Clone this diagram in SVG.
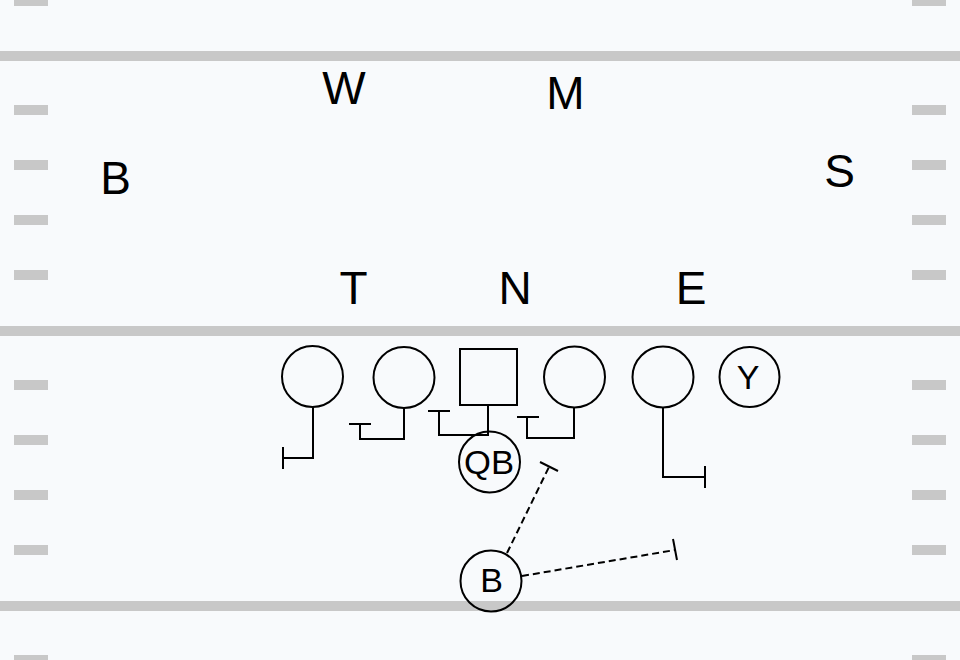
<svg xmlns="http://www.w3.org/2000/svg" width="960" height="660" viewBox="0 0 960 660">
<style>
.yard{fill:#c8c8c8}
.lbl{font-family:"Liberation Sans",Arial,sans-serif;font-size:46px;fill:#000;text-anchor:middle}
.plbl{font-family:"Liberation Sans",Arial,sans-serif;font-size:34px;fill:#000;text-anchor:middle}
.pl{fill:none;stroke:#000;stroke-width:2}
.rt{fill:none;stroke:#000;stroke-width:2}
.dash{fill:none;stroke:#000;stroke-width:2;stroke-dasharray:7,4}
</style>
<rect width="960" height="660" fill="#f8fafc"/>
<g id="field">
<rect class="yard" x="0" y="51" width="960" height="10"/>
<rect class="yard" x="0" y="326" width="960" height="10"/>
<rect class="yard" x="0" y="601" width="960" height="10"/>
<g id="hashes-left">
<rect class="yard" x="14" y="-4" width="34" height="10"/>
<rect class="yard" x="14" y="105" width="34" height="10"/>
<rect class="yard" x="14" y="160" width="34" height="10"/>
<rect class="yard" x="14" y="215" width="34" height="10"/>
<rect class="yard" x="14" y="270" width="34" height="10"/>
<rect class="yard" x="14" y="380" width="34" height="10"/>
<rect class="yard" x="14" y="435" width="34" height="10"/>
<rect class="yard" x="14" y="490" width="34" height="10"/>
<rect class="yard" x="14" y="545" width="34" height="10"/>
<rect class="yard" x="14" y="655" width="34" height="10"/>
</g>
<g id="hashes-right">
<rect class="yard" x="912" y="-4" width="34" height="10"/>
<rect class="yard" x="912" y="105" width="34" height="10"/>
<rect class="yard" x="912" y="160" width="34" height="10"/>
<rect class="yard" x="912" y="215" width="34" height="10"/>
<rect class="yard" x="912" y="270" width="34" height="10"/>
<rect class="yard" x="912" y="380" width="34" height="10"/>
<rect class="yard" x="912" y="435" width="34" height="10"/>
<rect class="yard" x="912" y="490" width="34" height="10"/>
<rect class="yard" x="912" y="545" width="34" height="10"/>
<rect class="yard" x="912" y="655" width="34" height="10"/>
</g>
</g>
<g id="defense">
<g id="def-W"><text class="lbl" x="344" y="104">W</text></g>
<g id="def-M"><text class="lbl" x="565.5" y="109">M</text></g>
<g id="def-B"><text class="lbl" x="115.5" y="194">B</text></g>
<g id="def-S"><text class="lbl" x="839.5" y="187">S</text></g>
<g id="def-T"><text class="lbl" x="353.5" y="304">T</text></g>
<g id="def-N"><text class="lbl" x="515" y="304">N</text></g>
<g id="def-E"><text class="lbl" x="691" y="304">E</text></g>
</g>
<g id="offense">
<g id="LT"><circle class="pl" cx="312.5" cy="376.5" r="30.5"/></g>
<g id="LG"><circle class="pl" cx="404" cy="377.5" r="30.5"/></g>
<g id="C"><rect class="pl" x="460" y="349" width="57" height="56"/></g>
<g id="RG"><circle class="pl" cx="574.5" cy="377" r="30.5"/></g>
<g id="RT"><circle class="pl" cx="663" cy="377" r="30.5"/></g>
<g id="Y"><circle class="pl" cx="749.5" cy="377" r="30"/><text class="plbl" x="748" y="389">Y</text></g>
<g id="QB"><circle class="pl" cx="489.5" cy="462" r="30.5"/><text class="plbl" x="489" y="474" textLength="50" lengthAdjust="spacingAndGlyphs">QB</text></g>
<g id="RB"><circle class="pl" cx="491" cy="581" r="30.5"/><text class="plbl" x="491.5" y="592">B</text></g>
</g>
<g id="connectors">
<path class="rt" d="M313 407 V458 H283 M283 447 V469"/>
<path class="rt" d="M404 408 V439 H360 V424 M349 424 H371"/>
<path class="rt" d="M488 405 V435 H439 V411 M428 411 H450"/>
<path class="rt" d="M574 408 V438 H527 V417 M517 417 H539"/>
<path class="rt" d="M663 408 V477 H705 M705 466 V488"/>
<path class="dash" d="M507 553 L549 467"/>
<path class="rt" d="M540 462 L558 471"/>
<path class="dash" d="M522 576 L675 550"/>
<path class="rt" d="M673 539 L677 560"/>
</g>
</svg>
